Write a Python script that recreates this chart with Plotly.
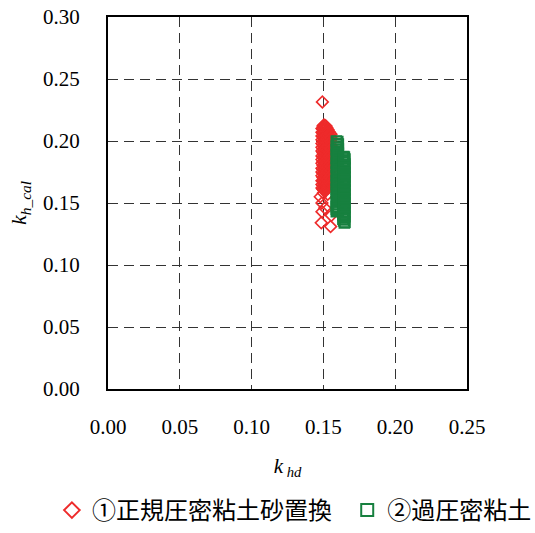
import plotly.graph_objects as go

# Series 1: ①正規圧密粘土砂置換 (red open diamonds)
red_x = (
    [0.1490] * 16 + [0.1497] * 17 + [0.1504] * 17 + [0.1511] * 17 + [0.1518] * 16
    + [0.1525] * 16 + [0.1532] * 15 + [0.1539] * 14 + [0.1546] * 14 + [0.1553] * 13
    + [0.1493, 0.1478, 0.1500, 0.1490, 0.1510, 0.1490, 0.1485, 0.1550, 0.1555, 0.1530]
)
red_y = [
    # 0.1490
    0.210, 0.207, 0.204, 0.201, 0.198, 0.195, 0.192, 0.188, 0.185, 0.182, 0.178, 0.175, 0.172, 0.168, 0.165, 0.162,
    # 0.1497
    0.212, 0.2095, 0.2065, 0.2035, 0.200, 0.197, 0.1935, 0.1905, 0.187, 0.1835, 0.1805, 0.177, 0.174, 0.1705, 0.1675, 0.164, 0.161,
    # 0.1504
    0.213, 0.209, 0.206, 0.203, 0.199, 0.196, 0.193, 0.189, 0.186, 0.183, 0.179, 0.176, 0.173, 0.169, 0.166, 0.163, 0.160,
    # 0.1511
    0.2125, 0.2095, 0.2065, 0.2035, 0.2005, 0.1975, 0.1945, 0.1915, 0.1875, 0.1845, 0.181, 0.1775, 0.1745, 0.171, 0.1675, 0.1645, 0.1615,
    # 0.1518
    0.212, 0.208, 0.204, 0.201, 0.197, 0.194, 0.190, 0.187, 0.184, 0.180, 0.177, 0.174, 0.170, 0.167, 0.164, 0.161,
    # 0.1525
    0.2105, 0.2075, 0.2045, 0.2015, 0.199, 0.1955, 0.1925, 0.1885, 0.1855, 0.182, 0.1785, 0.175, 0.1715, 0.1685, 0.165, 0.1625,
    # 0.1532
    0.209, 0.206, 0.203, 0.200, 0.196, 0.193, 0.189, 0.186, 0.182, 0.179, 0.176, 0.172, 0.169, 0.166, 0.162,
    # 0.1539
    0.2075, 0.2045, 0.2015, 0.1985, 0.1945, 0.1915, 0.1875, 0.1845, 0.1805, 0.1775, 0.174, 0.1705, 0.1675, 0.1635,
    # 0.1546
    0.206, 0.203, 0.200, 0.197, 0.194, 0.191, 0.188, 0.184, 0.181, 0.178, 0.174, 0.171, 0.168, 0.164,
    # 0.1553
    0.2055, 0.2025, 0.1995, 0.1965, 0.1935, 0.1895, 0.1865, 0.1825, 0.1795, 0.1765, 0.1725, 0.1695, 0.1655,
    # scattered
    0.2315, 0.155, 0.158, 0.150, 0.146, 0.143, 0.134, 0.131, 0.140, 0.157,
]

# Series 2: ②過圧密粘土 (green open squares)
green_x = (
    [0.1590] * 18 + [0.1595] * 17 + [0.1600] * 17 + [0.1604] * 17
    + [0.1636] * 16 + [0.1641] * 17 + [0.1646] * 16 + [0.1650] * 15
)
green_y = [
    # 0.1590
    0.200, 0.196, 0.193, 0.189, 0.186, 0.182, 0.179, 0.175, 0.172, 0.168, 0.165, 0.161, 0.158, 0.154, 0.151, 0.147, 0.145, 0.143,
    # 0.1595
    0.198, 0.1945, 0.191, 0.1875, 0.184, 0.1805, 0.177, 0.1735, 0.170, 0.1665, 0.163, 0.1595, 0.156, 0.1525, 0.149, 0.1465, 0.1435,
    # 0.1600
    0.1995, 0.195, 0.191, 0.188, 0.184, 0.181, 0.177, 0.174, 0.170, 0.167, 0.163, 0.160, 0.156, 0.153, 0.150, 0.147, 0.144,
    # 0.1604
    0.1975, 0.1935, 0.190, 0.1865, 0.1825, 0.179, 0.1755, 0.172, 0.1685, 0.165, 0.1615, 0.158, 0.1545, 0.151, 0.1485, 0.1455, 0.1435,
    # 0.1636
    0.187, 0.184, 0.181, 0.178, 0.174, 0.171, 0.167, 0.164, 0.160, 0.157, 0.153, 0.150, 0.146, 0.143, 0.140, 0.137,
    # 0.1641
    0.1875, 0.1855, 0.183, 0.1795, 0.1755, 0.172, 0.1685, 0.165, 0.1615, 0.158, 0.1545, 0.151, 0.1475, 0.1445, 0.141, 0.1385, 0.1355,
    # 0.1646
    0.187, 0.183, 0.180, 0.176, 0.173, 0.169, 0.166, 0.162, 0.159, 0.155, 0.152, 0.148, 0.145, 0.141, 0.137, 0.134,
    # 0.1650
    0.1855, 0.1815, 0.1785, 0.1745, 0.171, 0.1675, 0.164, 0.1605, 0.157, 0.1535, 0.150, 0.1465, 0.143, 0.139, 0.1345,
]

x_ticks = [0.00, 0.05, 0.10, 0.15, 0.20, 0.25]
y_ticks = [0.00, 0.05, 0.10, 0.15, 0.20, 0.25, 0.30]

RED = "#ee2b2b"
GREEN = "#17803f"

fig = go.Figure()
fig.add_trace(go.Scatter(
    x=red_x, y=red_y, mode="markers", name="①正規圧密粘土砂置換", legend="legend",
    marker=dict(symbol="diamond-open", size=9, color=RED, line=dict(width=1.6, color=RED)),
))
fig.add_trace(go.Scatter(
    x=green_x, y=green_y, mode="markers", name="②過圧密粘土", legend="legend2",
    marker=dict(symbol="square-open", size=10, color=GREEN, line=dict(width=1.6, color=GREEN)),
))

axis_common = dict(
    showline=True, linecolor="black", linewidth=2, mirror=True,
    showgrid=True, gridcolor="#333333", gridwidth=1, griddash="10px,6px",
    zeroline=False, ticks="", tickformat=".2f",
    tickfont=dict(family="Liberation Serif", size=21, color="black"),
)

fig.update_xaxes(
    range=[0, 0.25], tickvals=x_ticks, ticklabelstandoff=18,
    title=dict(text="<i>k</i><sub><i> hd</i></sub>", font=dict(family="Liberation Serif", size=21, color="black"), standoff=20),
    **axis_common,
)
fig.update_yaxes(
    range=[0, 0.30], tickvals=y_ticks, ticklabelstandoff=22,
    title=dict(text="<i>k</i><sub><i>h_cal</i></sub>", font=dict(family="Liberation Serif", size=22, color="black"), standoff=10),
    **axis_common,
)

legend_common = dict(
    orientation="h", xref="container", yref="container",
    xanchor="left", y=0.0, yanchor="bottom",
    font=dict(family="Noto Sans CJK JP", size=24, color="black"),
    itemwidth=30, itemsizing="constant", tracegroupgap=0, borderwidth=0,
    bgcolor="rgba(0,0,0,0)",
)

fig.update_layout(
    width=535, height=533,
    margin=dict(l=108, r=68, t=17, b=144, autoexpand=False),
    paper_bgcolor="white", plot_bgcolor="white",
    showlegend=True,
    legend=dict(x=0.097, **legend_common),
    legend2=dict(x=0.649, **legend_common),
)

fig.write_html("out.html")
